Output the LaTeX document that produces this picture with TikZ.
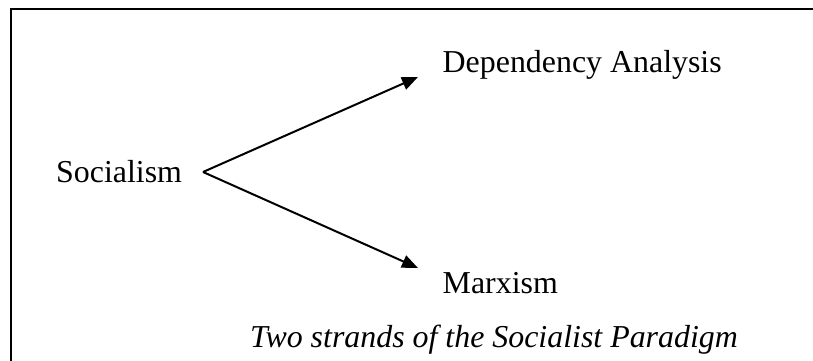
\documentclass[tikz,border=0pt]{standalone}
\usepackage{fontspec}
\setmainfont{Liberation Serif}
\usetikzlibrary{arrows.meta}
\tikzset{
  lbl/.style={anchor=base west, inner sep=0pt, font=\fontsize{31.9}{36}\selectfont},
  captxt/.style={lbl, font=\fontsize{31.9}{36}\selectfont\itshape},
  arr/.style={line width=2pt, -{Triangle[length=16pt,width=13pt]}},
  framel/.style={line width=2.5pt}
}
\begin{document}
\begin{tikzpicture}[x=1pt,y=-1pt]
\useasboundingbox (0,0) rectangle (813,361);
\draw[framel] (813,9) -- (11,9) -- (11,361);
\node[lbl] (soc) at (56,182) {Socialism};
\node[lbl] (dep) at (442.5,73) {Dependency Analysis};
\node[lbl] (mar) at (442.5,293) {Marxism};
\node[captxt] (capt) at (250,347) {Two strands of the Socialist Paradigm};
\coordinate (fork) at (203,172);
\coordinate (tipD) at (418,77);
\coordinate (tipM) at (418,268);
\draw[arr] (fork) -- (tipD);
\draw[arr] (fork) -- (tipM);
\end{tikzpicture}
\end{document}
